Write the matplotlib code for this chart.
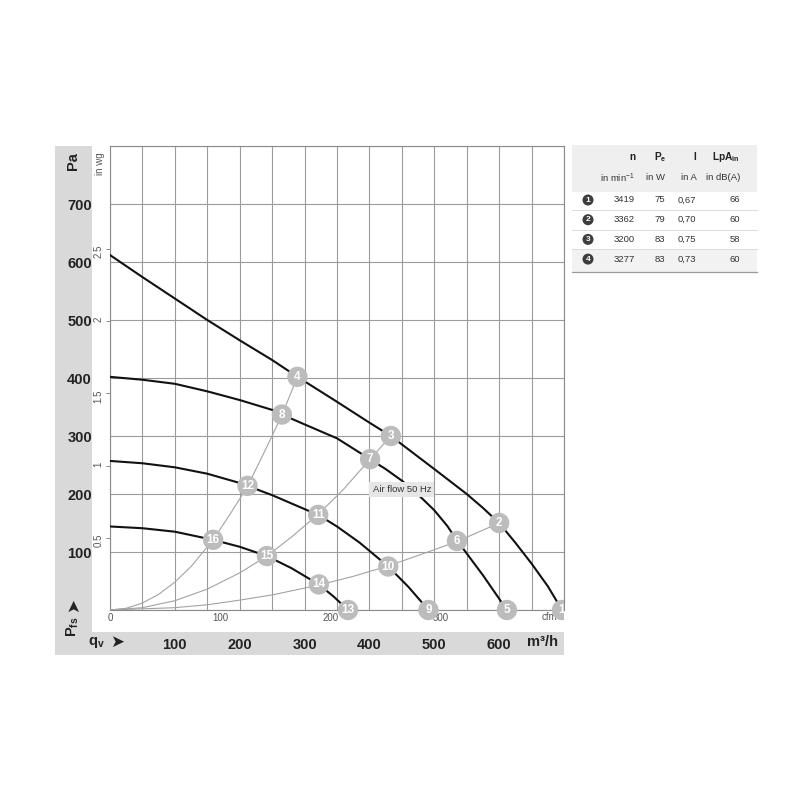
import numpy as np
import matplotlib
matplotlib.use('Agg')
import matplotlib.pyplot as plt
from matplotlib.patches import Rectangle, Circle

plt.rcParams['font.family'] = ['Liberation Sans', 'DejaVu Sans']
plt.rcParams['mathtext.fontset'] = 'custom'
plt.rcParams['mathtext.rm'] = 'Liberation Sans'
plt.rcParams['mathtext.it'] = 'Liberation Sans:italic'
plt.rcParams['mathtext.bf'] = 'Liberation Sans:bold'

# fan curves (q in m3/h, p in Pa)
fan1_q = [0, 50, 100, 150, 200, 250, 289, 350, 400, 433, 500, 550, 575, 600, 625, 650, 675, 697]
fan1_p = [612, 574, 537, 500, 465, 431, 402, 359, 323, 300, 243, 200, 176, 150, 116, 80, 41, 0]
fan2_q = [0, 50, 100, 150, 200, 250, 265, 300, 350, 401, 425, 450, 475, 500, 520, 535, 575, 612]
fan2_p = [402, 397, 390, 377, 362, 345, 337, 320, 296, 260, 243, 223, 199, 172, 145, 120, 60, 0]
fan3_q = [0, 50, 100, 150, 200, 212, 250, 300, 321, 350, 385, 429, 460, 491]
fan3_p = [257, 253, 246, 235, 219, 214, 198, 174, 164, 144, 116, 75, 40, 0]
fan4_q = [0, 50, 100, 159, 200, 242, 280, 322, 345, 367]
fan4_p = [144, 141, 135, 121, 109, 93, 72, 44, 23, 0]

# system curves (grey)
sysA_q = [0, 25, 50, 75, 100, 125, 159, 185, 212, 240, 265, 289]
sysA_p = [0, 3, 12, 27, 48, 75, 121, 165, 213, 277, 336, 402]
sysB_q = [0, 50, 100, 150, 200, 242, 280, 321, 360, 401, 433]
sysB_p = [0, 4, 16, 36, 64, 93, 126, 165, 208, 260, 300]
sysC_q = [0, 100, 150, 200, 250, 322, 375, 429, 480, 535, 600]
sysC_p = [0, 4, 9, 17, 26, 43, 58, 76, 96, 118, 150]

# numbered operating points 1..16
op_num = list(range(1, 17))
op_q = [697, 600, 433, 289, 612, 535, 401, 265, 491, 429, 321, 212, 367, 322, 242, 159]
op_p = [0, 150, 300, 402, 0, 119, 260, 337, 0, 75, 164, 214, 0, 44, 93, 121]

# axes ticks
pa_ticks = [0, 100, 200, 300, 400, 500, 600, 700, 800]
pa_labels = ['', '100', '200', '300', '400', '500', '600', '700', '']
m3h_ticks = [100, 200, 300, 400, 500, 600]
inwg_ticks = [0.5, 1, 1.5, 2, 2.5]
inwg_labels = ['0.5', '1', '1.5', '2', '2.5']
cfm_ticks = [0, 100, 200, 300]

# table
tab_ids = [1, 2, 3, 4]
tab_n = ['3419', '3362', '3200', '3277']
tab_pe = ['75', '79', '83', '83']
tab_i = ['0,67', '0,70', '0,75', '0,73']
tab_lpa = ['66', '60', '58', '60']

fig = plt.figure(figsize=(8, 8), dpi=100)

def fx(px):
    return px / 800

def fy(py):
    return 1 - py / 800

# overlay in pixel coords for the frame, strips and table
ov = fig.add_axes([0, 0, 1, 1], zorder=0)
ov.set_xlim(0, 800)
ov.set_ylim(800, 0)
ov.axis('off')
ov.patch.set_visible(False)

ov.add_patch(Rectangle((55, 146), 37, 509, color='#d9d9d9', lw=0))
ov.add_patch(Rectangle((55, 632), 509, 23, color='#d9d9d9', lw=0))

ax = fig.add_axes([fx(110), fy(610), (564 - 110) / 800, (610 - 146) / 800], zorder=1)
ax.set_xlim(0, 700)
ax.set_ylim(0, 800)

for s in ax.spines.values():
    s.set_color('#8a8a8a')
    s.set_linewidth(0.8)

ax.set_xticks(np.arange(0, 701, 50), minor=True)
ax.set_xticks(m3h_ticks, labels=[str(v) for v in m3h_ticks])
ax.set_yticks(pa_ticks, labels=pa_labels)
ax.tick_params(which='both', length=0)
ax.tick_params(axis='x', pad=20, labelsize=10.5, labelcolor='#222')
ax.tick_params(axis='y', pad=13, labelsize=10.5, labelcolor='#222')
for lbl in ax.get_xticklabels() + ax.get_yticklabels():
    lbl.set_fontweight('bold')
ax.grid(True, which='both', color='#9b9b9b', lw=0.8)
ax.set_axisbelow(True)

# inch water gauge scale
secy = ax.secondary_yaxis('left', functions=(lambda p: p / 249.09, lambda w: w * 249.09))
secy.set_yticks(inwg_ticks, labels=inwg_labels)
secy.tick_params(length=3, width=0.6, color='#777777', pad=1.5, labelsize=7,
                 labelcolor='#555555', labelrotation=90)
secy.spines['left'].set_visible(False)

# cfm scale
secx = ax.secondary_xaxis('bottom', functions=(lambda q: q / 1.699, lambda c: c * 1.699))
secx.set_xticks(cfm_ticks, labels=[str(v) for v in cfm_ticks])
secx.tick_params(length=0, pad=2.5, labelsize=7, labelcolor='#555555')
secx.spines['bottom'].set_visible(False)

# curves
for q, p in [(sysA_q, sysA_p), (sysB_q, sysB_p), (sysC_q, sysC_p)]:
    ax.plot(q, p, color='#a3a3a3', lw=0.8, zorder=3)
for q, p in [(fan1_q, fan1_p), (fan2_q, fan2_p), (fan3_q, fan3_p), (fan4_q, fan4_p)]:
    ax.plot(q, p, color='#111111', lw=1.5, zorder=4, solid_joinstyle='round')

clip_rect = Rectangle((-0.2, -0.2), 1.2, 1.4, transform=ax.transAxes)
sc = ax.scatter(op_q, op_p, s=215, color='#bcbcbc', edgecolors='none', zorder=5)
sc.set_clip_path(clip_rect)
for n, q, p in zip(op_num, op_q, op_p):
    t = ax.text(q, p, str(n), ha='center', va='center', color='white', fontsize=8.5,
                fontweight='bold', zorder=6, clip_on=True)
    t.set_clip_path(clip_rect)

ax.text(450, 208, 'Air flow 50 Hz', ha='center', va='center', fontsize=6.8, color='#333333',
        zorder=7, bbox=dict(boxstyle='square,pad=0.35', fc='#e6e6e6', ec='none'))

# axis captions
ax.text(678, -12, 'cfm', ha='center', va='center', fontsize=7, color='#555555', clip_on=False)
ov.text(543, 642, 'm³/h', ha='center', va='center', fontsize=10.5, fontweight='bold', color='#222')
ov.text(73, 161, 'Pa', ha='center', va='center', rotation=90, fontsize=10.5, fontweight='bold', color='#222')
ov.text(100, 164, 'in wg', ha='center', va='center', rotation=90, fontsize=7, color='#555555')
ov.text(73, 627, r'$\mathbf{P_{fs}}$', ha='center', va='center', rotation=90, fontsize=10.5, color='#222')
ov.text(73, 605, '➤', ha='center', va='center', rotation=90, fontsize=12, color='#222',
        family='DejaVu Sans')
ov.text(96, 642, r'$\mathbf{q_v}$', ha='center', va='center', fontsize=10.5, color='#222')
ov.text(117, 642, '➤', ha='center', va='center', fontsize=12, color='#222', family='DejaVu Sans')

# table
ov.add_patch(Rectangle((572, 145), 185, 47, color='#efefef', lw=0))
ov.add_patch(Rectangle((572, 250), 185, 22, color='#f2f2f2', lw=0))
ov.text(636, 157, 'n', ha='right', va='center', fontsize=7.3, fontweight='bold', color='#222')
ov.text(660, 157, r'$\mathbf{P_e}$', ha='center', va='center', fontsize=7.3, color='#222')
ov.text(695, 157, 'I', ha='center', va='center', fontsize=7.3, fontweight='bold', color='#222')
ov.text(740, 157, r'$\mathbf{LpA_{in}}$', ha='right', va='center', fontsize=7.3, color='#222')
ov.text(635, 178, r'in min$^{-1}$', ha='right', va='center', fontsize=6.8, color='#333')
ov.text(665, 178, 'in W', ha='right', va='center', fontsize=6.8, color='#333')
ov.text(697, 178, 'in A', ha='right', va='center', fontsize=6.8, color='#333')
ov.text(740, 178, 'in dB(A)', ha='right', va='center', fontsize=6.8, color='#333')
for k, rid in enumerate(tab_ids):
    y = 200 + 19.7 * k
    ov.add_patch(Circle((588, y), 5.5, color='#3d3d3d', lw=0))
    ov.text(588, y, str(rid), ha='center', va='center', fontsize=6, fontweight='bold', color='white')
    ov.text(635, y, tab_n[k], ha='right', va='center', fontsize=6.8, color='#333')
    ov.text(665, y, tab_pe[k], ha='right', va='center', fontsize=6.8, color='#333')
    ov.text(696, y, tab_i[k], ha='right', va='center', fontsize=6.8, color='#333')
    ov.text(740, y, tab_lpa[k], ha='right', va='center', fontsize=6.8, color='#333')
    if k < 3:
        ov.plot([572, 757], [y + 10, y + 10], color='#d5d5d5', lw=0.6)
ov.plot([572, 757], [272, 272], color='#9a9a9a', lw=0.9)

fig.savefig('out.png', dpi=100, facecolor='white')
